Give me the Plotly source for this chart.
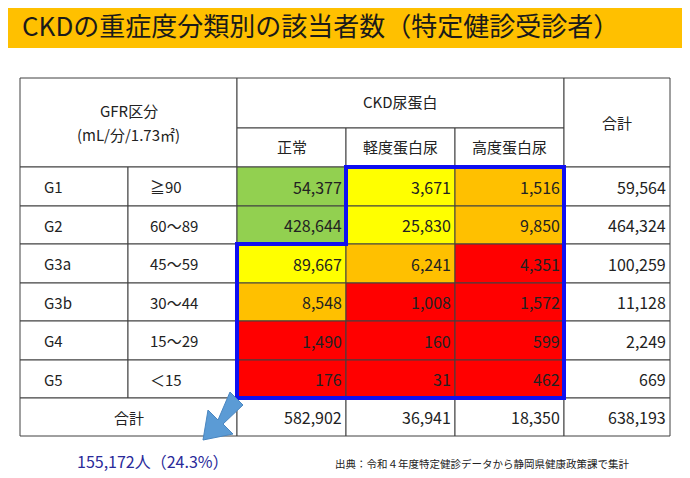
import plotly.graph_objects as go

grades = ['G1', 'G2', 'G3a', 'G3b', 'G4', 'G5']
gfr_ranges = ['≧90', '60～89', '45～59', '30～44', '15～29', '＜15']
protein_cols = ['正常', '軽度蛋白尿', '高度蛋白尿']
normal = [54377, 428644, 89667, 8548, 1490, 176]
mild = [3671, 25830, 6241, 1008, 160, 31]
severe = [1516, 9850, 4351, 1572, 599, 462]
row_totals = [59564, 464324, 100259, 11128, 2249, 669]
col_totals = [582902, 36941, 18350, 638193]
risk = [['g', 'y', 'o'], ['g', 'y', 'o'], ['y', 'o', 'r'],
        ['o', 'r', 'r'], ['r', 'r', 'r'], ['r', 'r', 'r']]

FONT = 'Noto Sans CJK JP'
colors = {'g': '#92D050', 'y': '#FFFF00', 'o': '#FFC000', 'r': '#FF0000'}
xs = [20, 128, 237, 346, 455, 564, 670]
top, mid = 78, 128
ys = [167, 206, 244, 283, 321, 360, 398, 436]

shapes = []
ann = []

def rect(x0, y0, x1, y1, fill='white'):
    shapes.append(dict(type='rect', x0=x0, y0=y0, x1=x1, y1=y1, fillcolor=fill,
                       line=dict(color='#404040', width=1), layer='below'))

def text(x, y, s, size=15, color='#222', anchor='center', family=FONT):
    ann.append(dict(x=x, y=y, text=s, showarrow=False, xanchor=anchor, yanchor='middle',
                    font=dict(size=size, color=color, family=family)))

# title band (page has an 8px body margin, so axes are offset by 8)
shapes.append(dict(type='rect', x0=0, y0=0, x1=700, y1=48, fillcolor='#FFC000',
                   line=dict(width=0), layer='below'))
text(20, 24, 'CKDの重症度分類別の該当者数（特定健診受診者）', size=26, color='#1a1a1a', anchor='left')

# header
rect(xs[0], top, xs[2], ys[0])
rect(xs[2], top, xs[5], mid)
for i in range(3):
    rect(xs[2 + i], mid, xs[3 + i], ys[0])
rect(xs[5], top, xs[6], ys[0])
text((xs[0] + xs[2]) / 2, 110, 'GFR区分')
text((xs[0] + xs[2]) / 2, 134, '(mL/分/1.73㎡)')
text((xs[2] + xs[5]) / 2, 101, 'CKD尿蛋白')
for i, c in enumerate(protein_cols):
    text((xs[2 + i] + xs[3 + i]) / 2, 146, c)
text((xs[5] + xs[6]) / 2, 122, '合計')

# body
for r in range(6):
    y0, y1 = ys[r], ys[r + 1]
    yc = (y0 + y1) / 2
    rect(xs[0], y0, xs[1], y1)
    rect(xs[1], y0, xs[2], y1)
    text(xs[0] + 22, yc, grades[r], anchor='left')
    text(xs[1] + 20, yc, gfr_ranges[r], anchor='left')
    for c, vals in enumerate([normal, mild, severe]):
        rect(xs[2 + c], y0, xs[3 + c], y1, colors[risk[r][c]])
        text(xs[3 + c] - 2, yc, f'{vals[r]:,}', size=16, anchor='right')
    rect(xs[5], y0, xs[6], y1)
    text(xs[6] - 2, yc, f'{row_totals[r]:,}', size=16, anchor='right')

# totals row
y0, y1 = ys[6], ys[7]
rect(xs[0], y0, xs[2], y1)
text((xs[0] + xs[2]) / 2, (y0 + y1) / 2, '合計')
for c in range(4):
    rect(xs[2 + c], y0, xs[3 + c], y1)
    text(xs[3 + c] - 2, (y0 + y1) / 2, f'{col_totals[c]:,}', size=16, anchor='right')

# blue outline
shapes.append(dict(type='path',
                   path=f'M{xs[3]},{ys[0]} L{xs[5]},{ys[0]} L{xs[5]},{ys[6]} L{xs[2]},{ys[6]} '
                        f'L{xs[2]},{ys[2]} L{xs[3]},{ys[2]} Z',
                   line=dict(color='#1010F0', width=4)))

# arrow
shapes.append(dict(type='path',
                   path='M243,405 L230,392 L218,420 L208,410 L203,440 L233,434 L223,424 Z',
                   fillcolor='#5B9BD5', line=dict(color='#4A86C0', width=1)))

text(75, 461, '155,172人（24.3%）', size=16, color='#2a2a9a', anchor='left')
text(333, 463, '出典：令和４年度特定健診データから静岡県健康政策課で集計', size=10.5, color='#222', anchor='left')

fig = go.Figure()
fig.update_layout(width=690, height=478, margin=dict(l=0, r=0, t=0, b=0),
                  paper_bgcolor='white', plot_bgcolor='white',
                  xaxis=dict(range=[8, 698], visible=False, fixedrange=True),
                  yaxis=dict(range=[486, 8], visible=False, fixedrange=True),
                  shapes=shapes, annotations=ann, showlegend=False)
fig.write_html('out.html')
